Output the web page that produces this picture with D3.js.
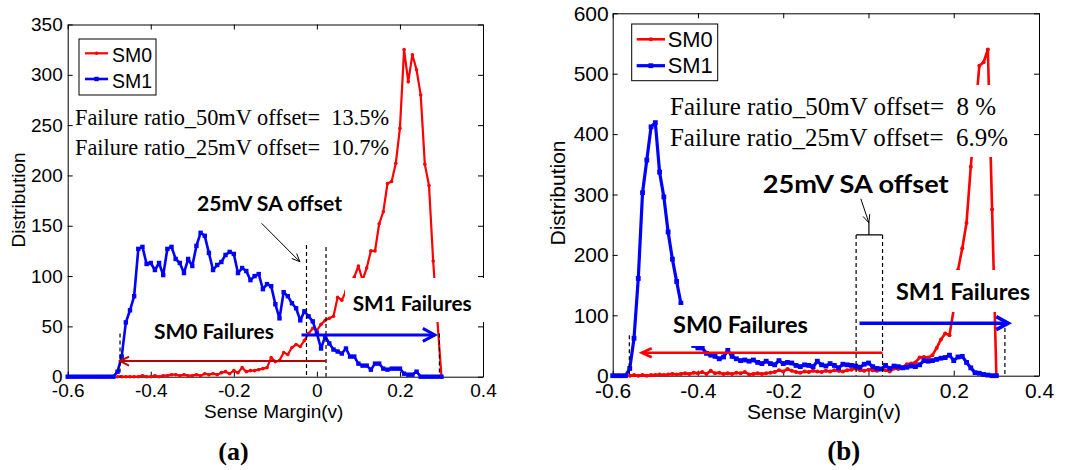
<!DOCTYPE html>
<html>
<head>
<meta charset="utf-8">
<script src="https://cdn.jsdelivr.net/npm/d3@7"></script>
<style>
  body { margin: 0; background: #fff; }
  svg { display: block; }
</style>
</head>
<body>
<svg id="chart" width="1080" height="470"></svg>
<script>
// ---- data (sense margin in V, step 0.01) ----
const xTicks = [-0.6, -0.4, -0.2, 0, 0.2, 0.4];
const xTickLabels = ['-0.6', '-0.4', '-0.2', '0', '0.2', '0.4'];
const yTicksA = [0, 50, 100, 150, 200, 250, 300, 350];
const yTicksB = [0, 100, 200, 300, 400, 500, 600];
const STEP = 0.01;

// panel (a)
const sm0StartA = -0.48;
const sm0A = [0, 0, 0, 0, 0, 0, 1, 0, 0, 1, 0, 1, 1, 2, 2, 1, 2, 1, 1, 2,
  1, 3, 2, 3, 2, 4, 5, 3, 6, 4, 9, 5, 6, 6, 7, 8, 9, 19, 15, 16,
  24, 22, 29, 32, 30, 36, 43, 48, 46, 52, 56, 58, 60, 79, 76, 85, 92, 99, 110, 96,
  108, 125, 125, 152, 164, 192, 194, 212, 247, 325, 293, 320, 305, 280, 211, 190, 115, 57, 0];
const sm1StartA = -0.60;
const sm1A = [0, 0, 0, 0, 0, 0, 0, 0, 0, 0, 0, 0, 5, 20, 54, 66, 80, 127, 129, 112,
  113, 106, 113, 101, 127, 129, 117, 113, 103, 117, 110, 130, 143, 140, 123, 106, 111, 114, 121, 124,
  122, 103, 108, 105, 96, 100, 102, 87, 92, 90, 72, 58, 84, 80, 73, 68, 56, 65, 60, 55,
  43, 28, 40, 33, 27, 25, 23, 28, 20, 20, 13, 11, 11, 7, 13, 13, 8, 7, 8, 8,
  8, 3, 2, 2, 5, 0, 0, 0, 0, 0, 0];

// panel (b)
const sm0StartB = -0.56;
const sm0B = [0, 1, 0, 1, 0, 1, 1, 2, 1, 2, 3, 2, 3, 4, 3, 5,
  4, 6, 3, 8, 4, 5, 3, 4, 3, 5,
  4, 6, 2, 3, 4, 3, 4, 5, 6, 9,
  7, 11, 8, 6, 5, 7, 6, 8, 7, 6,
  8, 7, 9, 8, 7, 9, 10, 12, 9, 8,
  10, 9, 8, 11, 9, 7, 12, 11, 14, 19,
  20, 22, 30, 31, 30, 34, 46, 60, 70, 67,
  110, 175, 211, 253, 346, 430, 513, 519, 540, 275, 0];
const sm1StartB = -0.60;
const sm1B = [0, 0, 0, 0, 12, 62, 161, 303, 357, 412, 419, 337, 296, 238, 193, 156, 120, 95, 70, 50,
  46, 46, 37, 34, 32, 28, 31, 42, 32, 28, 25, 26, 24, 26, 22, 20, 24, 20, 18, 25,
  20, 22, 21, 17, 15, 18, 17, 15, 24, 18, 16, 20, 17, 13, 19, 18, 17, 16, 14, 19,
  21, 15, 12, 11, 17, 12, 16, 15, 13, 14, 16, 15, 18, 25, 24, 25, 27, 29, 30, 34,
  25, 31, 32, 22, 13, 5, 4, 2, 1, 0, 0];

const RED = '#ff0000';
const BLUE = '#0000ff';

const toPoints = (start, vals) => vals.map((d, i) => ({ v: start + i * STEP, d }));

const svg = d3.select('#chart');

function drawPanel(p) {
  const x = d3.scaleLinear().domain([-0.6, 0.4]).range([p.left, p.right]);
  const y = d3.scaleLinear().domain([0, p.yMax]).range([p.bottom, p.top]);
  const g = svg.append('g');

  // axes, ticks inside like matlab
  const styleAxis = (sel, labels) => {
    sel.selectAll('.domain').attr('stroke', '#000').attr('stroke-width', 1);
    sel.selectAll('.tick line').attr('stroke', '#000');
    sel.attr('font-family', 'Liberation Sans, Arial, sans-serif')
      .attr('font-size', p.tickFont);
    sel.selectAll('.tick text').attr('fill', '#000');
    if (!labels) sel.selectAll('.tick text').remove();
  };
  g.append('g').attr('transform', `translate(0,${p.bottom})`)
    .call(d3.axisBottom(x).tickValues(xTicks).tickFormat((d, i) => xTickLabels[i])
      .tickSize(-5).tickSizeOuter(0).tickPadding(p.xPad))
    .call((s) => styleAxis(s, true));
  g.append('g').attr('transform', `translate(0,${p.top})`)
    .call(d3.axisTop(x).tickValues(xTicks).tickSize(-5).tickSizeOuter(0))
    .call((s) => styleAxis(s, false));
  g.append('g').attr('transform', `translate(${p.left},0)`)
    .call(d3.axisLeft(y).tickValues(p.yTicks).tickSize(-5).tickSizeOuter(0).tickPadding(p.yPad))
    .call((s) => styleAxis(s, true));
  g.append('g').attr('transform', `translate(${p.right},0)`)
    .call(d3.axisRight(y).tickValues(p.yTicks).tickSize(-5).tickSizeOuter(0))
    .call((s) => styleAxis(s, false));

  // axis titles
  g.append('text')
    .attr('x', p.xTitle[0]).attr('y', p.xTitle[1])
    .attr('text-anchor', 'middle')
    .attr('font-family', 'Liberation Sans, Arial, sans-serif')
    .attr('font-size', p.titleFont)
    .text('Sense Margin(v)');
  g.append('text')
    .attr('transform', `translate(${p.yTitle[0]},${p.yTitle[1]}) rotate(-90)`)
    .attr('text-anchor', 'middle')
    .attr('font-family', 'Liberation Sans, Arial, sans-serif')
    .attr('font-size', p.titleFont)
    .text('Distribution');

  // series
  const line = d3.line().x((pt) => x(pt.v)).y((pt) => y(pt.d));
  const sm0 = toPoints(p.sm0Start, p.sm0);
  const sm1 = toPoints(p.sm1Start, p.sm1);

  g.append('path').attr('d', line(sm0))
    .attr('fill', 'none').attr('stroke', RED).attr('stroke-width', p.redW)
    .attr('stroke-linejoin', 'round');
  g.selectAll('circle.sm0').data(sm0).enter().append('circle')
    .attr('class', 'sm0')
    .attr('cx', (pt) => x(pt.v)).attr('cy', (pt) => y(pt.d))
    .attr('r', p.dotR).attr('fill', RED);

  g.append('path').attr('d', line(sm1))
    .attr('fill', 'none').attr('stroke', BLUE).attr('stroke-width', p.blueW)
    .attr('stroke-linejoin', 'round');
  g.selectAll('rect.sm1').data(sm1).enter().append('rect')
    .attr('class', 'sm1')
    .attr('x', (pt) => x(pt.v) - p.sq / 2).attr('y', (pt) => y(pt.d) - p.sq / 2)
    .attr('width', p.sq).attr('height', p.sq).attr('fill', BLUE);

  // white text backgrounds that hide parts of the curves
  p.masks.forEach((m) => {
    g.append('rect').attr('x', m[0]).attr('y', m[1])
      .attr('width', m[2] - m[0]).attr('height', m[3] - m[1]).attr('fill', '#fff');
  });

  // dashed guides
  p.dashes.forEach((dl) => {
    g.append('line')
      .attr('x1', x(dl[0])).attr('x2', x(dl[0]))
      .attr('y1', y(dl[1])).attr('y2', y(0))
      .attr('stroke', '#000').attr('stroke-width', 1.2)
      .attr('stroke-dasharray', '4,3');
  });

  // failure arrows
  p.arrows.forEach((a) => {
    const x1 = x(a.from), x2 = x(a.to), yy = y(a.d);
    const dir = Math.sign(x2 - x1);
    g.append('line').attr('x1', x1).attr('x2', x2).attr('y1', yy).attr('y2', yy)
      .attr('stroke', a.color).attr('stroke-width', a.w);
    g.append('path')
      .attr('d', `M${x2 - dir * a.len},${yy - a.half}L${x2},${yy}L${x2 - dir * a.len},${yy + a.half}`)
      .attr('fill', 'none').attr('stroke', a.color).attr('stroke-width', a.w)
      .attr('stroke-linejoin', 'miter');
  });

  // legend
  const lg = p.legend;
  g.append('rect').attr('x', lg.box[0]).attr('y', lg.box[1])
    .attr('width', lg.box[2] - lg.box[0]).attr('height', lg.box[3] - lg.box[1])
    .attr('fill', '#fff').attr('stroke', '#000').attr('stroke-width', 1);
  [['SM0', RED, 'dot'], ['SM1', BLUE, 'sq']].forEach((e, i) => {
    const ly = lg.rows[i];
    g.append('line').attr('x1', lg.line[0]).attr('x2', lg.line[1])
      .attr('y1', ly).attr('y2', ly)
      .attr('stroke', e[1]).attr('stroke-width', i === 0 ? p.redW : p.blueW);
    const mx = (lg.line[0] + lg.line[1]) / 2;
    if (e[2] === 'dot') {
      g.append('circle').attr('cx', mx).attr('cy', ly).attr('r', p.dotR).attr('fill', e[1]);
    } else {
      g.append('rect').attr('x', mx - p.sq / 2).attr('y', ly - p.sq / 2)
        .attr('width', p.sq).attr('height', p.sq).attr('fill', e[1]);
    }
    g.append('text').attr('x', lg.textX).attr('y', lg.base[i])
      .attr('font-family', 'Liberation Sans, Arial, sans-serif')
      .attr('font-size', lg.font)
      .attr('textLength', lg.textW).attr('lengthAdjust', 'spacingAndGlyphs')
      .text(e[0]);
  });

  // text annotations
  p.texts.forEach((t) => {
    g.append('text').attr('x', t.x).attr('y', t.y)
      .attr('font-family', t.serif ? 'Liberation Serif, Times New Roman, serif' : 'Lato, Open Sans, sans-serif')
      .attr('font-weight', t.bold ? 700 : 400)
      .attr('font-size', t.size)
      .attr('textLength', t.w).attr('lengthAdjust', 'spacingAndGlyphs')
      .attr('xml:space', 'preserve')
      .text(t.s);
  });

  // "25mV SA offset" pointer
  const pa = p.pointer;
  const ax1 = x(pa.from[0]), ay1 = y(pa.from[1]), ax2 = x(pa.to[0]), ay2 = y(pa.to[1]);
  const ang = Math.atan2(ay2 - ay1, ax2 - ax1);
  g.append('line').attr('x1', ax1).attr('y1', ay1).attr('x2', ax2).attr('y2', ay2)
    .attr('stroke', '#000').attr('stroke-width', 1);
  const hl = 8, hw = 3.5;
  const bx = ax2 - hl * Math.cos(ang), by = ay2 - hl * Math.sin(ang);
  g.append('path')
    .attr('d', `M${bx - hw * Math.sin(ang)},${by + hw * Math.cos(ang)}L${ax2},${ay2}L${bx + hw * Math.sin(ang)},${by - hw * Math.cos(ang)}`)
    .attr('fill', 'none').attr('stroke', '#000').attr('stroke-width', 1);
  if (p.bracket) {
    const br = p.bracket;
    g.append('path')
      .attr('d', `M${x(br.l)},${y(br.d)}L${x(br.r)},${y(br.d)}M${x(br.mid)},${y(br.d)}L${x(br.mid)},${y(br.top)}`)
      .attr('fill', 'none').attr('stroke', '#000').attr('stroke-width', 1.2);
  }

  // sub-figure label
  g.append('text').attr('x', p.sub[0]).attr('y', p.sub[1])
    .attr('text-anchor', 'middle')
    .attr('font-family', 'Liberation Serif, Times New Roman, serif')
    .attr('font-weight', 700).attr('font-size', p.sub[2])
    .text(p.sub[3]);
}

drawPanel({
  left: 67.7, right: 483, top: 24.5, bottom: 376.7,
  yMax: 350, yTicks: yTicksA, tickFont: 19, titleFont: 19, xPad: 7, yPad: 5,
  xTitle: [273.7, 418], yTitle: [25, 200],
  sm0Start: sm0StartA, sm0: sm0A, sm1Start: sm1StartA, sm1: sm1A,
  redW: 2.2, blueW: 2.6, dotR: 1.8, sq: 4.4,
  masks: [[345, 278, 490, 322]],
  dashes: [[-0.025, 131], [0.022, 129], [-0.474, 43], [0.295, 43]],
  arrows: [
    { from: 0.022, to: -0.474, d: 15.5, color: '#c00000', w: 2, len: 9, half: 4.5 },
    { from: -0.037, to: 0.284, d: 41.5, color: BLUE, w: 3, len: 12, half: 6.5 }
  ],
  legend: { box: [79, 39, 156, 95], line: [85, 108], rows: [53.3, 79], textX: 112, base: [62.3, 87.5], font: 21, textW: 40 },
  texts: [
    { s: 'Failure ratio_50mV offset=  13.5%', x: 75, y: 125, size: 23, w: 314, serif: true },
    { s: 'Failure ratio_25mV offset=  10.7%', x: 75, y: 155, size: 23, w: 314, serif: true },
    { s: '25mV SA offset', x: 197, y: 211, size: 20.5, w: 145, bold: true },
    { s: 'SM0 Failures', x: 154, y: 338.5, size: 20, w: 120, bold: true },
    { s: 'SM1 Failures', x: 352.7, y: 311, size: 20, w: 119, bold: true }
  ],
  pointer: { from: [-0.133, 152.4], to: [-0.041, 114.3] },
  sub: [233.5, 460, 26, '(a)']
});

drawPanel({
  left: 612.7, right: 1039, top: 13.3, bottom: 375.7,
  yMax: 600, yTicks: yTicksB, tickFont: 21, titleFont: 21, xPad: 7, yPad: 4,
  xTitle: [824, 419], yTitle: [565, 193],
  sm0Start: sm0StartB, sm0: sm0B, sm1Start: sm1StartB, sm1: sm1B,
  redW: 2.6, blueW: 3.2, dotR: 2, sq: 4.8,
  masks: [[665, 85, 1010, 157], [890, 270, 1036, 312], [670, 305, 812, 346]],
  dashes: [[-0.029, 233], [0.033, 233], [-0.561, 67], [0.32, 79]],
  arrows: [
    { from: 0.033, to: -0.532, d: 38, color: RED, w: 2.5, len: 10, half: 4.5 },
    { from: -0.021, to: 0.328, d: 87, color: BLUE, w: 3.5, len: 12, half: 6.5 }
  ],
  legend: { box: [631.7, 24, 717.7, 80.7], line: [636.7, 665], rows: [39.3, 65.7], textX: 667.7, base: [46.7, 73.3], font: 22, textW: 45 },
  texts: [
    { s: 'Failure ratio_50mV offset=  8 %', x: 670, y: 115, size: 25, w: 326, serif: true },
    { s: 'Failure ratio_25mV offset=  6.9%', x: 670, y: 145.7, size: 25, w: 338, serif: true },
    { s: '25mV SA offset', x: 762.7, y: 193, size: 25, w: 186, bold: true },
    { s: 'SM0 Failures', x: 673, y: 333, size: 22, w: 135, bold: true },
    { s: 'SM1 Failures', x: 896, y: 300, size: 22, w: 134, bold: true }
  ],
  pointer: { from: [-0.018, 293], to: [0.001, 253] },
  bracket: { l: -0.029, r: 0.033, mid: 0.001, d: 233, top: 253 },
  sub: [843.7, 460, 27, '(b)']
});
</script>
</body>
</html>
